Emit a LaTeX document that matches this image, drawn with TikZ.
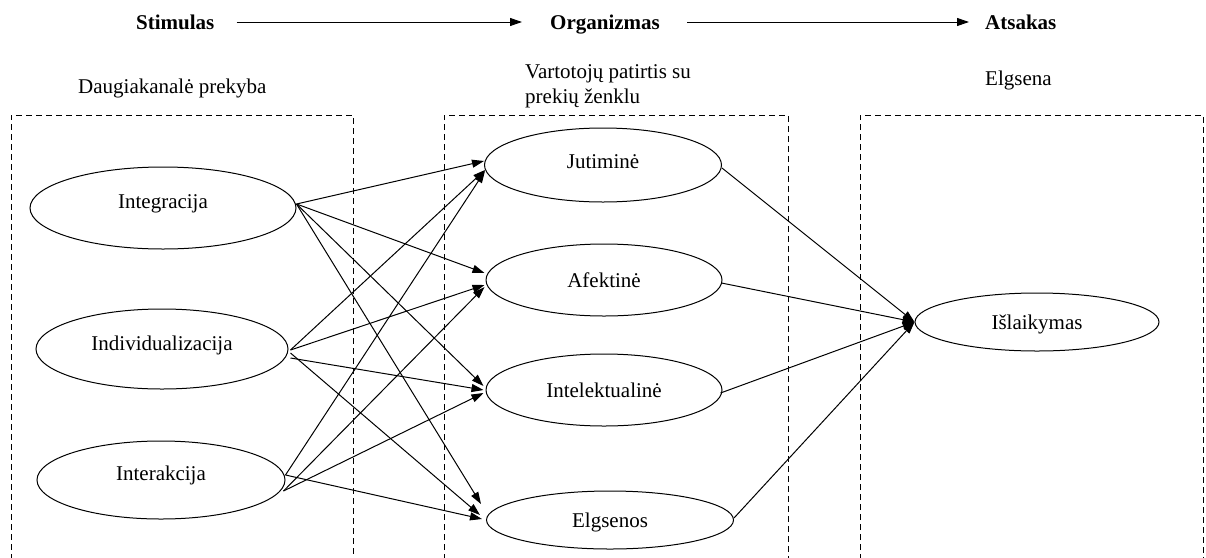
\documentclass[tikz,border=0pt]{standalone}
\usepackage{fontspec}
\setmainfont{Liberation Serif}
\usetikzlibrary{shapes.geometric,arrows.meta}
\begin{document}
\begin{tikzpicture}[x=1pt,y=-1pt,
  every node/.style={font=\fontsize{21}{25}\selectfont,inner sep=0pt},
  head/.style={font=\fontsize{21}{25}\selectfont\bfseries},
  oval/.style n args={4}{ellipse,draw,line width=1pt,
    minimum width=#1pt,minimum height=#2pt,text height=#3pt,text depth=#4pt},
  frame/.style={line width=1pt,dash pattern=on 6pt off 4pt},
  flow/.style={line width=1pt,-{Triangle[length=12pt,width=8pt]}},
  link/.style={line width=1pt,-{Triangle[length=12pt,width=8pt]}}]
\useasboundingbox (0,0) rectangle (1206,557);

% stage headings
\node[head,anchor=base west] (stim) at (136,29) {Stimulas};
\node[head,anchor=base west] (org)  at (550,29) {Organizmas};
\node[head,anchor=base west] (ats)  at (985,29) {Atsakas};
\draw[flow] ([shift={(22,-7)}]stim.base east) -- ([shift={(-28,-7)}]org.base west);
\draw[flow] ([shift={(27,-7)}]org.base east) -- ([shift={(-16,-7)}]ats.base west);

% group titles
\node[anchor=west] (tmulti) at (78,88) {Daugiakanalė prekyba};
\node[anchor=west,align=left] (texp) at (525,86) {Vartotojų patirtis su\\prekių ženklu};
\node[anchor=west] (tbeh) at (985,80) {Elgsena};

% dashed group frames, open at the bottom
\draw[frame] (11,570) |- (353,115) -- (353,570);
\draw[frame] (444,570) |- (788,115) -- (788,570);
\draw[frame] (860,570) |- (1203,115) -- (1203,570);

% channel constructs
\node[oval={266}{82}{14}{12.6}] (integ) at (163,208) {Integracija};
\node[oval={252}{80}{14}{10.6}] (indiv) at (162,349) {Individualizacija};
\node[oval={248}{78}{14}{12.6}] (inter) at (161,480) {Interakcija};

% brand experience dimensions
\node[oval={237}{74}{14}{6.6}] (jut)   at (603,165) {Jutiminė};
\node[oval={236}{72}{20}{4.6}] (afek)  at (604,280) {Afektinė};
\node[oval={236}{72}{20}{4.6}] (intel) at (604,390) {Intelektualinė};
\node[oval={247}{58}{20}{4.6}] (elg)   at (610,520) {Elgsenos};

% outcome
\node[oval={244}{58}{20}{4.6}] (isl)   at (1037,322) {Išlaikymas};

% channel -> experience
\draw[link] ([shift={(0,-4)}]integ.east) -- ([shift={(0,-4)}]jut.west);
\draw[link] ([shift={(0,-4)}]integ.east) -- ([shift={(-1,-7)}]afek.west);
\draw[link] ([shift={(0,-4)}]integ.east) -- ([shift={(-2,-4)}]intel.west);
\draw[link] ([shift={(0,-4)}]integ.east) -- ([shift={(-5,-16)}]elg.west);

\draw[link] ([shift={(2,1)}]indiv.east) -- ([shift={(1,5)}]jut.west);
\draw[link] ([shift={(2,1)}]indiv.east) -- ([shift={(-1,5)}]afek.west);
\draw[link] ([shift={(2,9)}]indiv.east) -- ([shift={(-2,0)}]intel.west);
\draw[link] ([shift={(2,4)}]indiv.east) -- ([shift={(-6,-5)}]elg.west);

\draw[link] ([shift={(0,-5)}]inter.east) -- ([shift={(1,6)}]jut.west);
\draw[link] ([shift={(-2,11)}]inter.east) -- ([shift={(-1,7)}]afek.west);
\draw[link] ([shift={(-2,11)}]inter.east) -- ([shift={(-2,3)}]intel.west);
\draw[link] ([shift={(0,-5)}]inter.east) -- ([shift={(-4,-1)}]elg.west);

% experience -> retention
\draw[link] ([shift={(0,3)}]jut.east) -- (isl.west);
\draw[link] ([shift={(-1,3)}]afek.east) -- (isl.west);
\draw[link] ([shift={(-2,3)}]intel.east) -- (isl.west);
\draw[link] ([shift={(0,-2)}]elg.east) -- (isl.west);
\end{tikzpicture}
\end{document}
